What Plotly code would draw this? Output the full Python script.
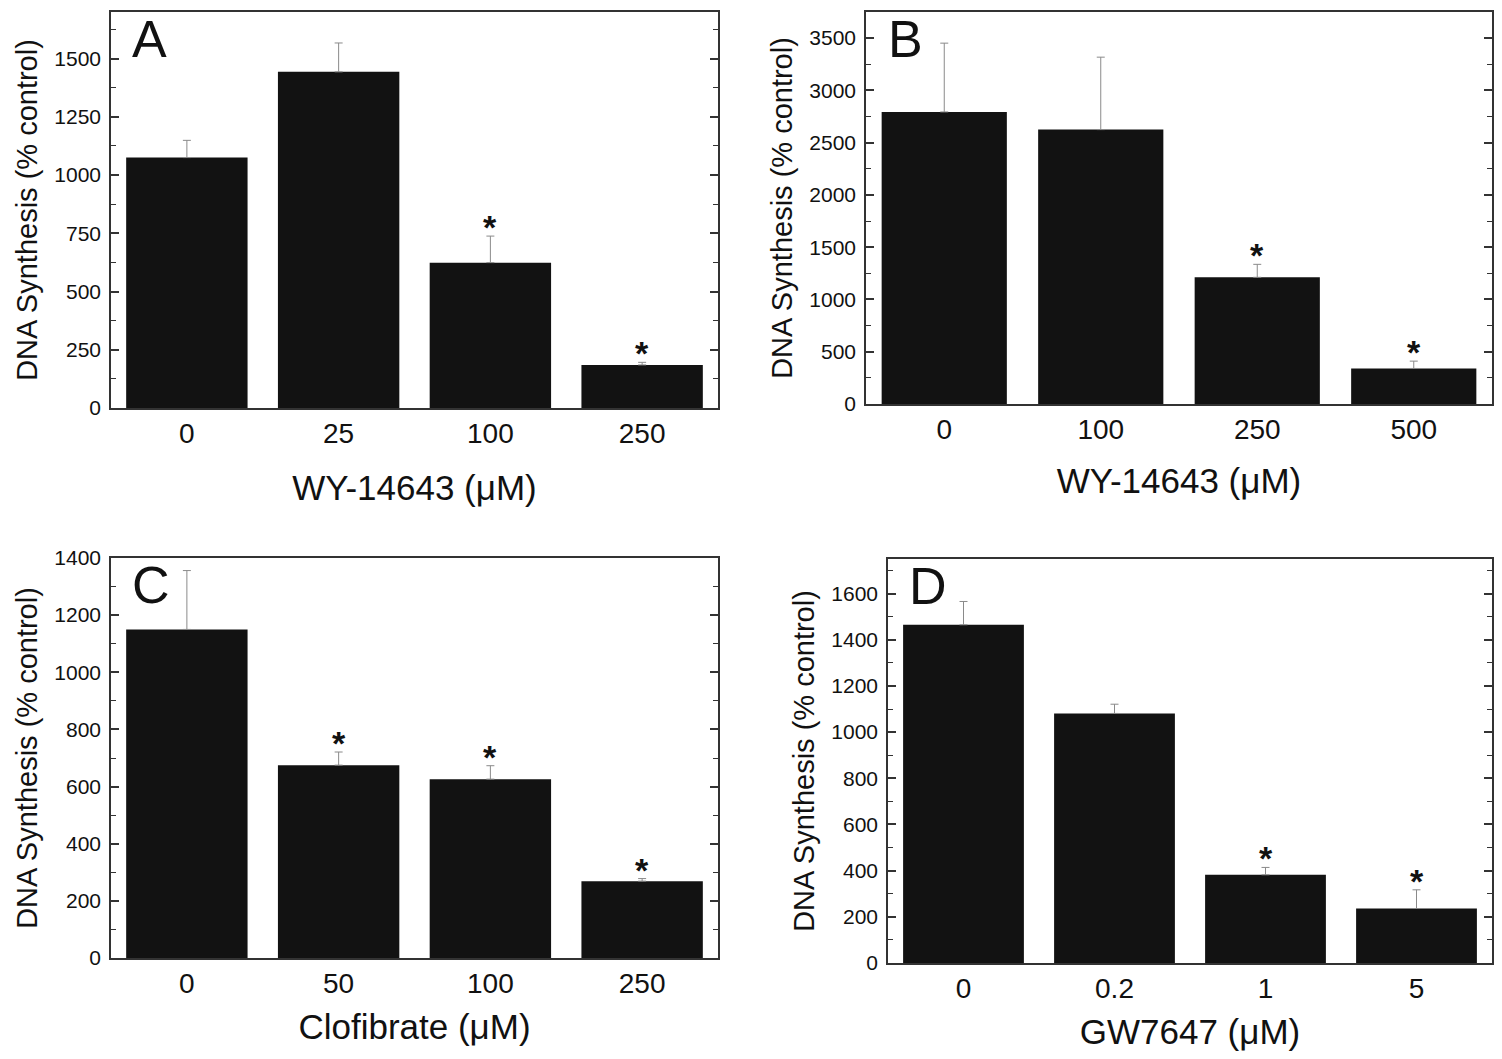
import plotly.graph_objects as go

# ---- data ----
a_cats = ["0", "25", "100", "250"]
a_vals = [1075, 1443, 624, 185]
a_errs = [74, 124, 114, 11]
a_sig = [False, False, True, True]

b_cats = ["0", "100", "250", "500"]
b_vals = [2794, 2625, 1212, 340]
b_errs = [658, 693, 124, 70]
b_sig = [False, False, True, True]

c_cats = ["0", "50", "100", "250"]
c_vals = [1150, 675, 626, 269]
c_errs = [206, 46, 47, 9]
c_sig = [False, True, True, True]

d_cats = ["0", "0.2", "1", "5"]
d_vals = [1465, 1081, 382, 236]
d_errs = [101, 40, 32, 81]
d_sig = [False, False, True, True]

FONT = "Liberation Sans, Arial, sans-serif"
OFF = 8                 # page body margin
W, H = 1502 - 2 * OFF, 1059 - 2 * OFF

panels = [
    dict(cats=a_cats, vals=a_vals, errs=a_errs, sig=a_sig, label="A",
         xtitle="WY-14643 (μM)", yrange=[0, 1700], dtick=250, minor=125,
         px=(111, 718), py=(12, 408), xstand=27),
    dict(cats=b_cats, vals=b_vals, errs=b_errs, sig=b_sig, label="B",
         xtitle="WY-14643 (μM)", yrange=[0, 3750], dtick=500, minor=250,
         px=(866, 1492), py=(12, 404), xstand=24),
    dict(cats=c_cats, vals=c_vals, errs=c_errs, sig=c_sig, label="C",
         xtitle="Clofibrate (μM)", yrange=[0, 1400], dtick=200, minor=100,
         px=(111, 718), py=(558, 958), xstand=16),
    dict(cats=d_cats, vals=d_vals, errs=d_errs, sig=d_sig, label="D",
         xtitle="GW7647 (μM)", yrange=[0, 1750], dtick=200, minor=100,
         px=(888, 1492), py=(559, 963), xstand=31),
]

fig = go.Figure()
annotations = []
for i, p in enumerate(panels):
    n = "" if i == 0 else str(i + 1)
    xa, ya = "x" + n, "y" + n
    fig.add_trace(go.Bar(
        x=p["cats"], y=p["vals"], xaxis=xa, yaxis=ya, width=0.8,
        marker=dict(color="#121212", line=dict(width=0)),
        error_y=dict(type="data", array=p["errs"], arrayminus=[0] * 4,
                     symmetric=False, color="#8a8a8a", thickness=1, width=4),
        showlegend=False,
    ))
    xd = [(p["px"][0] - OFF) / W, (p["px"][1] - OFF) / W]
    yd = [1 - (p["py"][1] - OFF) / H, 1 - (p["py"][0] - OFF) / H]
    fig.update_layout(**{
        "xaxis" + n: dict(
            domain=xd, anchor=ya, type="category", range=[-0.5, 3.5],
            showline=True, linecolor="#333", linewidth=1.5, mirror=True,
            ticks="", showgrid=False, zeroline=False, automargin=False,
            tickfont=dict(family=FONT, size=28, color="#111"),
            title=dict(text=p["xtitle"], font=dict(family=FONT, size=35, color="#111"),
                       standoff=p["xstand"]),
        ),
        "yaxis" + n: dict(
            domain=yd, anchor=xa, range=p["yrange"], dtick=p["dtick"], tick0=0,
            showline=True, linecolor="#333", linewidth=1.5, mirror="allticks",
            ticks="inside", ticklen=8, tickwidth=1.5, tickcolor="#333",
            minor=dict(ticks="inside", ticklen=5, tickwidth=1.2, tickcolor="#333",
                       dtick=p["minor"], tick0=0, showgrid=False),
            showgrid=False, zeroline=False, automargin=False,
            ticklabelstandoff=4,
            tickfont=dict(family=FONT, size=21, color="#111"),
            title=dict(text="DNA Synthesis (% control)",
                       font=dict(family=FONT, size=29, color="#111"), standoff=8),
        ),
    })
    # panel letter
    annotations.append(dict(
        text=p["label"], xref=xa + " domain", yref=ya + " domain",
        x=0.032, y=1.0, xanchor="left", yanchor="top", showarrow=False, yshift=4,
        font=dict(family=FONT, size=52, color="#111"),
    ))
    # significance asterisks (x given as category index on the category axis)
    for j, (v, e, s) in enumerate(zip(p["vals"], p["errs"], p["sig"])):
        if s:
            annotations.append(dict(
                text="<b>*</b>", x=j, y=v + e, xref=xa, yref=ya, xanchor="center",
                yanchor="bottom", showarrow=False, yshift=-12,
                font=dict(family=FONT, size=34, color="#111"),
            ))

fig.update_layout(
    width=W, height=H, margin=dict(l=0, r=0, t=0, b=0),
    paper_bgcolor="white", plot_bgcolor="white",
    annotations=annotations, bargap=0.2,
)
fig.write_html("out.html")
